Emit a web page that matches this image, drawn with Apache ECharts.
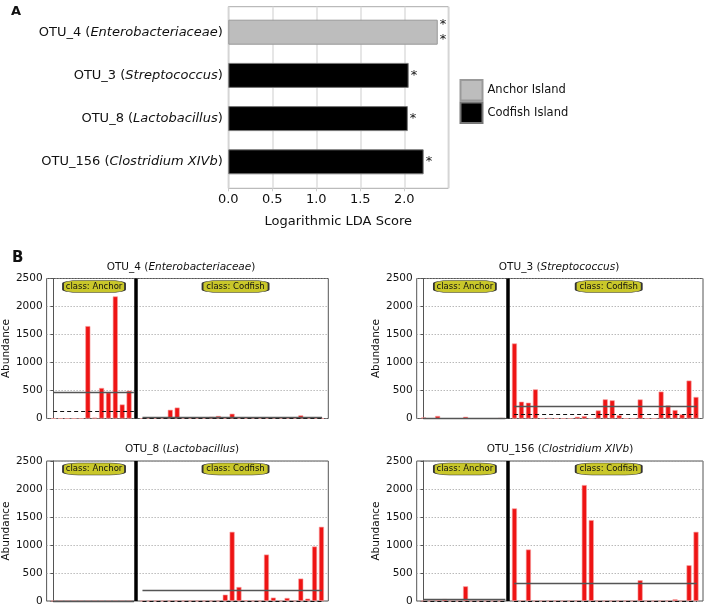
<!DOCTYPE html>
<html lang="en">
<head>
    <meta charset="UTF-8">
    <title>LEfSe</title>
    <style>
    html, body { margin: 0; padding: 0; background: #fff; }
    #chart { width: 706px; height: 607px; }
    </style>
</head>
<body>
    <div id="chart"></div>
    <script src="https://cdn.jsdelivr.net/npm/echarts@6/dist/echarts.min.js"></script>
    <script>
    // panel A: LDA scores
    var ldaTaxa = ['OTU_4', 'OTU_3', 'OTU_8', 'OTU_156'];
    var ldaGenus = ['Enterobacteriaceae', 'Streptococcus', 'Lactobacillus', 'Clostridium XIVb'];
    var ldaAnchor = [2.38, '-', '-', '-'];
    var ldaCodfish = ['-', 2.05, 2.04, 2.22];
    var ldaStars = ['*\n*', '*', '*', '*'];

    // panel B: abundance per sample (12 Anchor, 27 Codfish)
    var otu4Anchor = [0, 0, 0, 0, 0, 1650, 15, 545, 465, 2180, 250, 495];
    var otu4Codfish = [0, 0, 0, 0, 155, 195, 0, 0, 0, 0, 30, 45, 0, 85, 0, 0, 10, 0, 0, 10, 0, 0, 0, 55, 0, 0, 0];
    var otu3Anchor = [18, 0, 45, 0, 0, 0, 30, 0, 0, 0, 0, 5];
    var otu3Codfish = [1340, 300, 282, 520, 0, 5, 0, 0, 0, 30, 42, 0, 144, 342, 324, 60, 0, 0, 340, 0, 0, 480, 234, 150, 72, 677, 384];
    var otu8Anchor = [0, 0, 0, 0, 0, 0, 0, 0, 0, 0, 0, 0];
    var otu8Codfish = [0, 0, 0, 0, 0, 0, 0, 0, 0, 0, 0, 0, 113, 1235, 250, 12, 0, 0, 829, 60, 0, 54, 0, 400, 42, 973, 1325];
    var otu156Anchor = [0, 0, 15, 35, 0, 0, 262, 0, 0, 0, 0, 0];
    var otu156Codfish = [1653, 5, 919, 0, 0, 0, 0, 0, 0, 0, 2070, 1444, 0, 0, 0, 0, 0, 0, 370, 0, 0, 0, 0, 30, 0, 638, 1235];

    var fontA = "'DejaVu Sans', sans-serif";
    var fontB = "'DejaVu Sans', sans-serif";

    function mean(a) { return a.reduce(function (s, v) { return s + v; }, 0) / a.length; }
    function median(a) {
        var s = a.slice().sort(function (x, y) { return x - y; });
        var m = s.length >> 1;
        return s.length % 2 ? s[m] : (s[m - 1] + s[m]) / 2;
    }

    var panels = [
        { name: 'OTU_4', genus: 'Enterobacteriaceae', anchor: otu4Anchor, codfish: otu4Codfish, left: 43.3, width: 285, top: 278.5, height: 140, tx: 181, ty: 262, nameGap: 30 },
        { name: 'OTU_3', genus: 'Streptococcus', anchor: otu3Anchor, codfish: otu3Codfish, left: 416.7, width: 286.3, top: 278.5, height: 140, tx: 559, ty: 262, nameGap: 29 },
        { name: 'OTU_8', genus: 'Lactobacillus', anchor: otu8Anchor, codfish: otu8Codfish, left: 43.3, width: 285, top: 461, height: 140, tx: 182, ty: 444, nameGap: 30 },
        { name: 'OTU_156', genus: 'Clostridium XIVb', anchor: otu156Anchor, codfish: otu156Codfish, left: 416.7, width: 286.3, top: 461, height: 140, tx: 560, ty: 444, nameGap: 29 }
    ];

    var grids = [
        { left: 228.3, top: 6.7, width: 220, height: 181.6, show: true, borderColor: '#aaa', borderWidth: 1, backgroundColor: 'transparent' },
        { left: 228.3, top: 10.6, width: 220, height: 172.8 }
    ];
    var xAxes = [
        {
            gridIndex: 0, type: 'value', min: 0, max: 2.5, interval: 0.5,
            axisLine: { show: false },
            axisTick: { show: true, length: 3, lineStyle: { color: '#ccc' } },
            splitLine: { show: true, lineStyle: { color: '#dedede', width: 1.5 } },
            axisLabel: {
                showMaxLabel: false, margin: 5, color: '#111', fontSize: 13, fontFamily: fontA,
                formatter: function (v) { return v.toFixed(1); }
            },
            name: 'Logarithmic LDA Score', nameLocation: 'middle', nameGap: 27,
            nameTextStyle: { color: '#111', fontSize: 13, fontFamily: fontA }
        },
        { gridIndex: 1, type: 'value', min: 0, max: 2.5, show: false }
    ];
    var yAxes = [
        { gridIndex: 0, type: 'value', min: 0, max: 1, show: false },
        {
            gridIndex: 1, type: 'category', data: ldaTaxa, inverse: true,
            axisLine: { show: false }, axisTick: { show: false },
            axisLabel: {
                margin: 5.5, fontSize: 13, fontFamily: fontA, color: '#111',
                formatter: function (v, i) { return '{n|' + v + ' (}{i|' + ldaGenus[i] + '}{n|)}'; },
                rich: {
                    n: { fontSize: 13, fontFamily: fontA, color: '#111' },
                    i: { fontSize: 13, fontFamily: fontA, color: '#111', fontStyle: 'italic' }
                }
            }
        }
    ];
    var series = [
        {
            name: 'Anchor Island', type: 'bar', xAxisIndex: 1, yAxisIndex: 1,
            data: ldaAnchor, barWidth: 25, barGap: '-100%',
            itemStyle: { color: '#bdbdbd', borderColor: '#999', borderWidth: 1 },
            label: {
                show: true, position: 'right', distance: 2, fontSize: 13, lineHeight: 15, color: '#111', fontFamily: fontA,
                formatter: function (p) { return ldaStars[p.dataIndex]; }
            }
        },
        {
            name: 'Codfish Island', type: 'bar', xAxisIndex: 1, yAxisIndex: 1,
            data: ldaCodfish, barWidth: 25, barGap: '-100%',
            itemStyle: { color: '#000', borderColor: '#777', borderWidth: 1 },
            label: {
                show: true, position: 'right', distance: 2, fontSize: 13, color: '#111', fontFamily: fontA,
                formatter: function (p) { return ldaStars[p.dataIndex]; }
            }
        }
    ];
    var titles = [
        { text: 'A', left: 11, top: 5, padding: 0, textStyle: { fontSize: 13, fontWeight: 'bold', fontFamily: fontA, color: '#111' } },
        { text: 'B', left: 12, top: 251, padding: 0, textStyle: { fontSize: 15, fontWeight: 'bold', fontFamily: fontA, color: '#111' } }
    ];

    function classBox(text, x, w) {
        return {
            coord: [x, 2500], symbol: 'roundRect', symbolSize: [w, 12], symbolOffset: [0, 8],
            itemStyle: { color: '#c9c72a', borderColor: '#333', borderWidth: 0.8 },
            label: { show: true, position: 'inside', formatter: text, fontSize: 8.5, fontFamily: fontB, color: '#111' }
        };
    }

    panels.forEach(function (p) {
        var g = grids.length;
        grids.push({ left: p.left, top: p.top, width: p.width, height: p.height, show: true, borderColor: '#555', borderWidth: 1, backgroundColor: 'transparent' });
        xAxes.push({ gridIndex: g, type: 'value', min: -1, max: 40, show: false });
        yAxes.push({
            gridIndex: g, type: 'value', min: 0, max: 2500, interval: 500,
            axisLine: { show: true, lineStyle: { color: '#555' } },
            axisTick: { show: true, length: 3, lineStyle: { color: '#555' } },
            splitLine: { show: true, lineStyle: { color: '#999', type: [1, 2] } },
            axisLabel: {
                margin: 4, fontSize: 10.5, fontFamily: fontB, color: '#111',
                formatter: function (v) { return String(v); }
            },
            name: 'Abundance', nameLocation: 'middle', nameGap: p.nameGap,
            nameTextStyle: { fontSize: 10.5, fontFamily: fontB, color: '#111' }
        });
        titles.push({
            text: '{n|' + p.name + ' (}{i|' + p.genus + '}{n|)}', left: p.tx, top: p.ty, textAlign: 'center', padding: 0,
            textStyle: {
                fontWeight: 'normal',
                rich: {
                    n: { fontSize: 10.5, fontFamily: fontB, color: '#111', fontWeight: 'normal' },
                    i: { fontSize: 10.5, fontFamily: fontB, color: '#111', fontWeight: 'normal', fontStyle: 'italic' }
                }
            }
        });

        var data = [];
        p.anchor.forEach(function (v, i) { data.push([i, v]); });
        p.codfish.forEach(function (v, j) { data.push([13 + j, v]); });
        var nA = p.anchor.length, nC = p.codfish.length;
        var mA = mean(p.anchor), dA = median(p.anchor);
        var mC = mean(p.codfish), dC = median(p.codfish);
        var solid = { color: '#555', width: 1.3, type: 'solid' };
        var dashed = { color: '#111', width: 1, type: [4, 3] };

        series.push({
            type: 'bar', xAxisIndex: g, yAxisIndex: g, data: data, barWidth: 5,
            itemStyle: { color: '#ee1414', borderColor: '#f7a0a0', borderWidth: 0.6 },
            markLine: {
                silent: true, symbol: 'none', animation: false, label: { show: false },
                data: [
                    [{ coord: [-0.05, dA], lineStyle: dashed }, { coord: [nA - 0.3, dA] }],
                    [{ coord: [12.95, dC], lineStyle: dashed }, { coord: [13 + nC - 0.9, dC] }],
                    [{ coord: [-0.05, mA], lineStyle: solid }, { coord: [nA - 0.3, mA] }],
                    [{ coord: [12.95, mC], lineStyle: solid }, { coord: [13 + nC - 0.9, mC] }],
                    [{ coord: [12, 0], lineStyle: { color: '#000', width: 3.5, type: 'solid' } }, { coord: [12, 2500] }]
                ]
            },
            markPoint: {
                silent: true, animation: false,
                data: [classBox('class: Anchor', 5.9, 62), classBox('class: Codfish', 26.5, 66)]
            }
        });
    });

    var myChart = echarts.init(document.getElementById('chart'));
    myChart.setOption({
        animation: false,
        title: titles,
        legend: {
            data: ['Anchor Island', 'Codfish Island'], orient: 'vertical', left: 459.5, top: 79, padding: 0,
            itemWidth: 22, itemHeight: 20.5, itemGap: 0, icon: 'rect', selectedMode: false,
            textStyle: { fontSize: 11.5, fontFamily: fontA, color: '#111' }
        },
        grid: grids,
        xAxis: xAxes,
        yAxis: yAxes,
        series: series
    });
    </script>
</body>
</html>
